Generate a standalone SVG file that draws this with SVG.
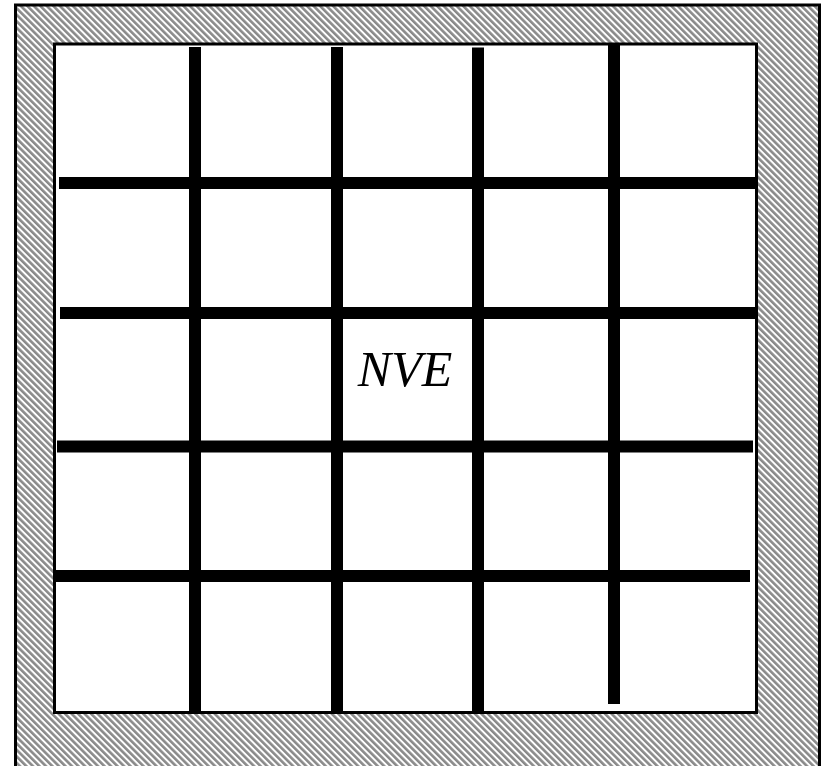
<svg xmlns="http://www.w3.org/2000/svg" width="829" height="766" viewBox="0 0 829 766">
  <defs>
    <pattern id="hatch" patternUnits="userSpaceOnUse" width="4.6" height="10" patternTransform="rotate(-45)">
      <rect x="0" y="0" width="4.6" height="10" fill="#ffffff"/>
      <rect x="0" y="0" width="2.6" height="10" fill="#8a8a8a"/>
    </pattern>
  </defs>
  <style>
    .wall { fill: url(#hatch); stroke: #000; stroke-width: 3; }
    .inner { fill: #fff; stroke: #000; stroke-width: 3; }
    .bar { stroke: #000; stroke-width: 12; fill: none; }
    .lbl { font-family: "Liberation Serif", "Times New Roman", serif; font-style: italic; font-size: 50px; fill: #000; }
  </style>
  <rect fill="#fff" x="0" y="0" width="829" height="766"/>
  <g id="wall">
    <rect class="wall" x="15.5" y="5" width="804" height="775"/>
  </g>
  <g id="box">
    <rect class="inner" x="54.5" y="44" width="702" height="668.5"/>
  </g>
  <g id="grid">
    <line class="bar" x1="195" y1="47" x2="195" y2="711"/>
    <line class="bar" x1="337" y1="47" x2="337" y2="711"/>
    <line class="bar" x1="478" y1="47.5" x2="478" y2="711"/>
    <line class="bar" x1="614" y1="44" x2="614" y2="704"/>
    <line class="bar" x1="59" y1="183" x2="755" y2="183"/>
    <line class="bar" x1="60" y1="313" x2="756" y2="313"/>
    <line class="bar" x1="57" y1="446.5" x2="753" y2="446.5"/>
    <line class="bar" x1="55" y1="576" x2="750" y2="576"/>
  </g>
  <g id="label">
    <text class="lbl" x="405" y="386" text-anchor="middle">NVE</text>
  </g>
</svg>
